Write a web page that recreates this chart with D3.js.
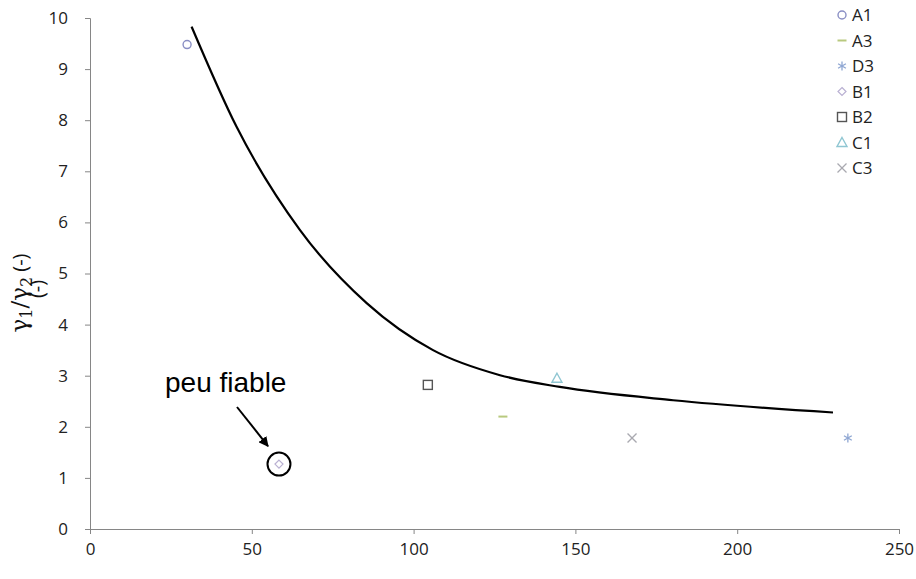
<!DOCTYPE html>
<html><head><meta charset="utf-8">
<script src="https://cdn.jsdelivr.net/npm/d3@7"></script>
<style>body{margin:0;background:#fff}svg{display:block}</style>
</head><body>
<svg id="c" width="916" height="579"></svg>
<script>
const seriesNames = ["A1","A3","D3","B1","B2","C1","C3"];
const seriesX = [30, 127.6, 234.2, 58.4, 104.4, 144.3, 167.5];
const seriesY = [9.48, 2.2, 1.78, 1.27, 2.82, 2.95, 1.78];
const seriesSymbols = ["circle","dash","asterisk","diamond","square","triangle","cross"];
const seriesColors = ["#8a8fc4","#b8c97e","#8ea6d2","#b9b0d2","#555555","#8fc6d2","#a9a9b0"];
const curveX = [31.4, 45.3, 64.9, 85.5, 106.0, 126.7, 145.2, 180.2, 229.6];
const curveY = [9.83, 7.87, 5.85, 4.42, 3.50, 3.01, 2.78, 2.52, 2.28];
const xTicks = [0,50,100,150,200,250];
const yTicks = [0,1,2,3,4,5,6,7,8,9,10];

const svg = d3.select("#c");
const x = d3.scaleLinear().domain([0,250]).range([90,899]);
const y = d3.scaleLinear().domain([0,10]).range([529,18]);
const font = "'Open Sans', 'Liberation Sans', sans-serif";

// axes
const xa = svg.append("g").attr("transform","translate(0,529)")
  .call(d3.axisBottom(x).tickValues(xTicks).tickSize(5).tickPadding(9).tickFormat(d3.format("d")));
const ya = svg.append("g").attr("transform","translate(90,0)")
  .call(d3.axisLeft(y).tickValues(yTicks).tickSize(5).tickPadding(17).tickFormat(d3.format("d")));
[xa,ya].forEach(g=>{
  g.select(".domain").attr("stroke","#868686");
  g.selectAll(".tick line").attr("stroke","#868686");
  g.selectAll(".tick text").attr("fill","#222").style("font-family",font).style("font-size","17px");
});

// fitted curve
const line = d3.line().x((d,i)=>x(curveX[i])).y((d,i)=>y(curveY[i])).curve(d3.curveMonotoneX);
svg.append("path").datum(curveX).attr("d",line).attr("fill","none").attr("stroke","#000").attr("stroke-width",2.2);

// symbols
function drawSym(g, type, cx, cy, color){
  const s = 4.5;
  if(type==="circle") g.append("circle").attr("cx",cx).attr("cy",cy).attr("r",4).attr("fill","none").attr("stroke",color).attr("stroke-width",1.4);
  else if(type==="dash") g.append("line").attr("x1",cx-4.5).attr("x2",cx+4.5).attr("y1",cy).attr("y2",cy).attr("stroke",color).attr("stroke-width",2);
  else if(type==="asterisk"){
    [[0,-s,0,s],[-s*0.87,-s*0.5,s*0.87,s*0.5],[-s*0.87,s*0.5,s*0.87,-s*0.5]].forEach(a=>
      g.append("line").attr("x1",cx+a[0]).attr("y1",cy+a[1]).attr("x2",cx+a[2]).attr("y2",cy+a[3]).attr("stroke",color).attr("stroke-width",1.3));
  }
  else if(type==="diamond") g.append("path").attr("d",`M${cx},${cy-4}L${cx+4},${cy}L${cx},${cy+4}L${cx-4},${cy}Z`).attr("fill","none").attr("stroke",color).attr("stroke-width",1.2);
  else if(type==="square") g.append("rect").attr("x",cx-4.5).attr("y",cy-4.5).attr("width",9).attr("height",9).attr("fill","none").attr("stroke",color).attr("stroke-width",1.4);
  else if(type==="triangle") g.append("path").attr("d",`M${cx},${cy-5}L${cx+5},${cy+4}L${cx-5},${cy+4}Z`).attr("fill","none").attr("stroke",color).attr("stroke-width",1.4);
  else if(type==="cross"){
    g.append("line").attr("x1",cx-4.5).attr("y1",cy-4.5).attr("x2",cx+4.5).attr("y2",cy+4.5).attr("stroke",color).attr("stroke-width",1.3);
    g.append("line").attr("x1",cx-4.5).attr("y1",cy+4.5).attr("x2",cx+4.5).attr("y2",cy-4.5).attr("stroke",color).attr("stroke-width",1.3);
  }
}
const pts = svg.append("g");
seriesNames.forEach((n,i)=>drawSym(pts, seriesSymbols[i], x(seriesX[i]), y(seriesY[i]), seriesColors[i]));

// legend
const lg = svg.append("g");
seriesNames.forEach((n,i)=>{
  const ly = 15 + i*25.5;
  drawSym(lg, seriesSymbols[i], 842, ly, seriesColors[i]);
  lg.append("text").attr("x",852).attr("y",ly+6).text(n).attr("fill","#222").style("font-family",font).style("font-size","17px");
});

// y axis title
const yt = svg.append("text").attr("transform","translate(27,293) rotate(-90)").attr("text-anchor","middle")
  .style("font-family","'DejaVu Serif', serif").style("font-size","23px").attr("fill","#111");
yt.append("tspan").text("γ");
yt.append("tspan").text("1").attr("dy",5).style("font-size","16px");
yt.append("tspan").text("/γ").attr("dy",-5);
yt.append("tspan").text("2").attr("dy",5).style("font-size","16px");
yt.append("tspan").text(" (-)").attr("dy",-5).style("font-family",font).style("font-size","20px");
svg.append("text").attr("transform","translate(44,289) rotate(-90)").attr("text-anchor","middle")
  .style("font-family",font).style("font-size","20px").attr("fill","#111").text("(-)");

// annotation
const bx = x(seriesX[3]), by = y(seriesY[3]);
svg.append("circle").attr("cx",bx).attr("cy",by).attr("r",11.5).attr("fill","none").attr("stroke","#000").attr("stroke-width",2);
svg.append("text").attr("x",165).attr("y",392).text("peu fiable")
  .style("font-family","'Liberation Sans', Arial, sans-serif").style("font-size","28px").attr("fill","#000");
svg.append("defs").append("marker").attr("id","ah").attr("viewBox","0 0 10 10").attr("refX",9).attr("refY",5)
  .attr("markerWidth",5).attr("markerHeight",5).attr("orient","auto")
  .append("path").attr("d","M0,0L10,5L0,10Z").attr("fill","#000");
svg.append("line").attr("x1",237).attr("y1",407).attr("x2",bx-11).attr("y2",by-18)
  .attr("stroke","#000").attr("stroke-width",2).attr("marker-end","url(#ah)");
</script>
</body></html>
